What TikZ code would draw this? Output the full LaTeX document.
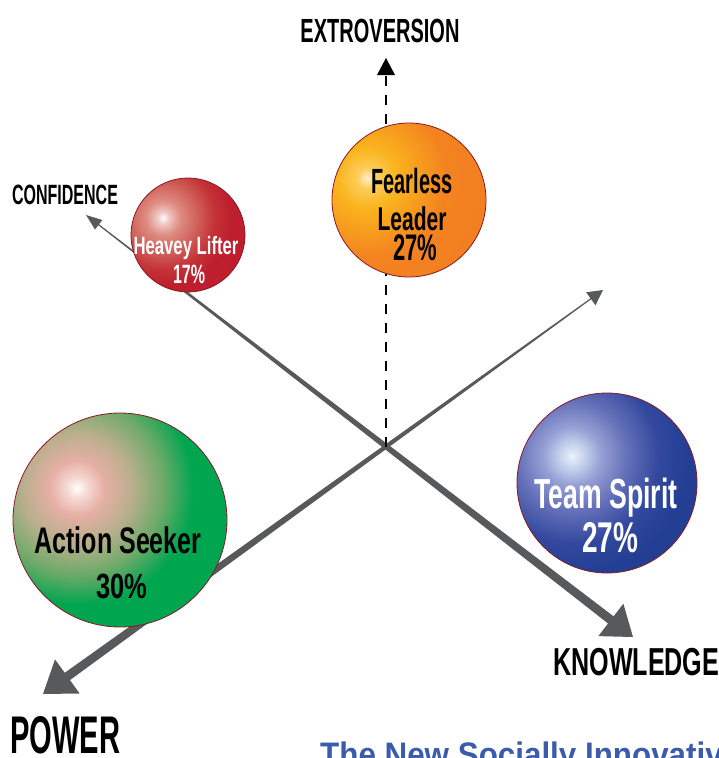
\documentclass[tikz,border=0pt]{standalone}
\usepackage{fontspec}
\usepackage{graphicx}
\setmainfont{Liberation Sans}
\usetikzlibrary{calc}

% condensed text: set to a given width, natural height kept
\newcommand\fitw[2]{\resizebox{#1pt}{\height}{#2}}
\newcommand\fsz[1]{\fontsize{#1}{#1}\selectfont\bfseries}

\definecolor{axisgray}{RGB}{88,89,91}
\definecolor{rim}{RGB}{135,25,35}
\definecolor{titleblue}{RGB}{59,92,170}

% glossy sphere shadings (centre = highlight)
\definecolor{rA}{RGB}{255,255,255}\definecolor{rB}{RGB}{240,200,195}
\definecolor{rC}{RGB}{222,140,130}\definecolor{rD}{RGB}{208,95,90}
\definecolor{rE}{RGB}{196,50,55}\definecolor{rF}{RGB}{190,30,45}
\pgfdeclareradialshading{redball}{\pgfpoint{0bp}{0bp}}{color(0bp)=(rA); color(1.6bp)=(rB); color(4.7bp)=(rC); color(9.4bp)=(rD); color(14bp)=(rE); color(18.7bp)=(rF); color(50bp)=(rF)}

\definecolor{oA}{RGB}{255,240,200}\definecolor{oB}{RGB}{253,205,90}
\definecolor{oC}{RGB}{250,180,30}\definecolor{oD}{RGB}{247,155,30}
\definecolor{oE}{RGB}{243,130,33}\definecolor{oF}{RGB}{240,122,33}
\pgfdeclareradialshading{orangeball}{\pgfpoint{0bp}{0bp}}{color(0bp)=(oA); color(2bp)=(oB); color(6bp)=(oC); color(11bp)=(oD); color(16bp)=(oE); color(50bp)=(oF)}

\definecolor{gA}{RGB}{255,255,255}\definecolor{gB}{RGB}{245,215,210}
\definecolor{gC}{RGB}{230,175,165}\definecolor{gD}{RGB}{185,175,140}
\definecolor{gE}{RGB}{110,170,105}\definecolor{gF}{RGB}{0,165,80}
\pgfdeclareradialshading{greenball}{\pgfpoint{0bp}{0bp}}{color(0bp)=(gA); color(1.6bp)=(gB); color(4bp)=(gC); color(8bp)=(gD); color(12.5bp)=(gE); color(17bp)=(gF); color(50bp)=(gF)}

\definecolor{bA}{RGB}{235,242,250}\definecolor{bB}{RGB}{200,212,238}
\definecolor{bC}{RGB}{150,160,212}\definecolor{bD}{RGB}{100,112,185}
\definecolor{bE}{RGB}{50,72,158}\definecolor{bF}{RGB}{35,63,148}
\pgfdeclareradialshading{blueball}{\pgfpoint{0bp}{0bp}}{color(0bp)=(bA); color(2bp)=(bB); color(5bp)=(bC); color(9.5bp)=(bD); color(15bp)=(bE); color(20bp)=(bF); color(50bp)=(bF)}

\tikzset{
  axis/.style={fill=axisgray},
  bubble/.style={circle, inner sep=0pt, draw=rim, line width=0.8pt},
  lbl/.style={inner sep=0pt, anchor=base},
  dashline/.style={draw=black, line width=2pt, dash pattern=on 10pt off 9pt},
}

\begin{document}
\begin{tikzpicture}[x=1pt, y=-1pt]
\useasboundingbox (0,0) rectangle (718,758);
\clip (0,0) rectangle (718,758);

% ---- CONFIDENCE -> KNOWLEDGE axis (tapered) ----
\coordinate (cT) at (86,215);
\coordinate (kT) at (633,637);
\coordinate (cB) at ($(cT)!16pt!(kT)$);
\coordinate (kB) at ($(kT)!28pt!(cT)$);
\fill[axis] (cT) -- ($(cB)!6pt!90:(kT)$) -- ($(cB)!0.6pt!90:(kT)$)
  -- ($(kB)!4.5pt!90:(kT)$) -- ($(kB)!20.5pt!90:(kT)$) -- (kT)
  -- ($(kB)!20.5pt!-90:(kT)$) -- ($(kB)!4.5pt!-90:(kT)$)
  -- ($(cB)!0.6pt!-90:(kT)$) -- ($(cB)!6pt!-90:(kT)$) -- cycle;

% ---- tail -> POWER axis (tapered) ----
\coordinate (eT) at (603,290);
\coordinate (pT) at (43,694);
\coordinate (eB) at ($(eT)!15pt!(pT)$);
\coordinate (pB) at ($(pT)!30pt!(eT)$);
\fill[axis] (eT) -- ($(eB)!8pt!90:(pT)$) -- ($(eB)!0.6pt!90:(pT)$)
  -- ($(pB)!4.5pt!90:(pT)$) -- ($(pB)!21pt!90:(pT)$) -- (pT)
  -- ($(pB)!21pt!-90:(pT)$) -- ($(pB)!4.5pt!-90:(pT)$)
  -- ($(eB)!0.6pt!-90:(pT)$) -- ($(eB)!8pt!-90:(pT)$) -- cycle;

% ---- EXTROVERSION axis (dashed) ----
\coordinate (xO) at (386,447);
\coordinate (xB) at (386,76);
\coordinate (xT) at (386,58);
\draw[dashline] (xO) -- (xB);
\fill[black] (xT) -- ($(xB)+(-9,-1)$) -- ($(xB)+(9,-1)$) -- cycle;

% ---- bubbles ----
\node[bubble, minimum size=114pt,
  path picture={\shade[shading=redball] ($(path picture bounding box.center)+(-25,-17)$) circle (92);}]
  (heavy) at (188,235) {};
\node[bubble, minimum size=154pt,
  path picture={\shade[shading=orangeball] ($(path picture bounding box.center)+(-42,-22)$) circle (125);}]
  (fear) at (409,200) {};
\node[bubble, minimum size=214pt,
  path picture={\shade[shading=greenball] ($(path picture bounding box.center)+(-43,-32)$) circle (172);}]
  (action) at (120,520) {};
\node[bubble, minimum size=180pt,
  path picture={\shade[shading=blueball] ($(path picture bounding box.center)+(-35,-27)$) circle (145);}]
  (team) at (607,483) {};

% ---- bubble texts ----
\node[lbl, text=white] (heavyA) at (186,254) {\fsz{25}\fitw{105}{Heavey Lifter}};
\node[lbl, text=white] (heavyB) at (189,283) {\fsz{26.5}\fitw{32}{17\%}};

\node[lbl] (fearA) at (412,193) {\fsz{35}\fitw{81}{Fearless}};
\node[lbl] (fearB) at (412,230) {\fsz{33}\fitw{69}{Leader}};
\node[lbl] (fearC) at (415,260) {\fsz{37}\fitw{44}{27\%}};

\node[lbl] (actionA) at (118,553) {\fsz{37}\fitw{167}{Action Seeker}};
\node[lbl] (actionB) at (122,598) {\fsz{35}\fitw{51}{30\%}};

\node[lbl, text=white] (teamA) at (606,508) {\fsz{42}\fitw{143}{Team Spirit}};
\node[lbl, text=white] (teamB) at (610,552) {\fsz{43}\fitw{56}{27\%}};

% ---- axis labels ----
\node[lbl] (extro) at (380,42) {\fsz{33.5}\fitw{159}{EXTROVERSION}};
\node[lbl] (conf) at (65,204) {\fsz{27.9}\fitw{106}{CONFIDENCE}};
\node[lbl, anchor=base west] (know) at (553,675) {\fsz{39}\fitw{166}{KNOWLEDGE}};
\node[lbl, anchor=base west] (power) at (10,753) {\fsz{53}\fitw{110}{POWER}};

% ---- title ----
\node[lbl, anchor=base west, text=titleblue] (title) at (320,766)
  {\fontsize{34}{34}\selectfont\bfseries\resizebox{420pt}{\height}{The New Socially Innovative}};
\end{tikzpicture}
\end{document}
